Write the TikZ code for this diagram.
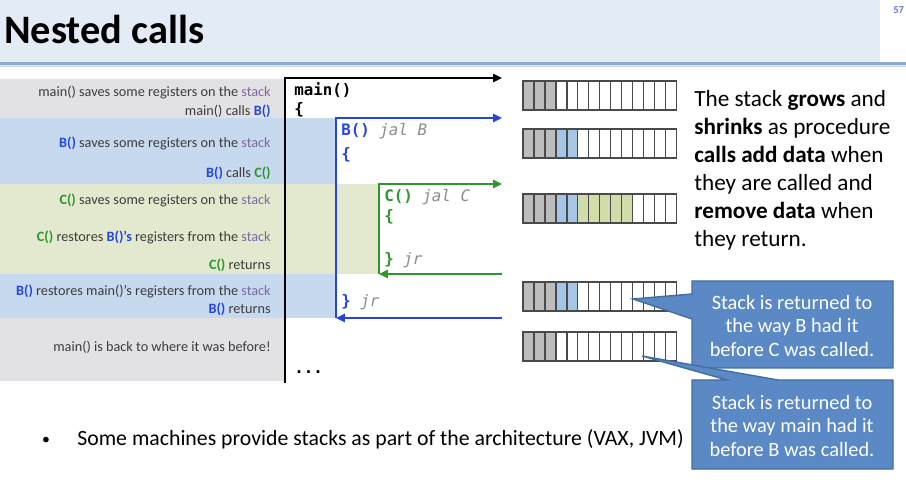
\documentclass[tikz,border=0pt]{standalone}
\usepackage{fontspec}
\setmainfont{Carlito}
\newfontfamily\codefont{DejaVu Sans Mono}
\usetikzlibrary{arrows.meta}
\definecolor{titlebg}{HTML}{E3ECF6}
\definecolor{titleline}{HTML}{8FAACB}
\definecolor{rowgray}{HTML}{E2E1E3}
\definecolor{rowblue}{HTML}{C6D9EE}
\definecolor{rowgreen}{HTML}{E3E9CF}
\definecolor{fnblue}{HTML}{2446DC}
\definecolor{fngreen}{HTML}{2E962E}
\definecolor{stkpurple}{HTML}{7D6AA0}
\definecolor{txtgray}{HTML}{3C3C3C}
\definecolor{jalgray}{HTML}{8C8C8C}
\definecolor{cellgray}{HTML}{BDBDBD}
\definecolor{cellblue}{HTML}{A6C6E8}
\definecolor{cellgreen}{HTML}{D0DDA9}
\definecolor{cellborder}{HTML}{4A4A4A}
\definecolor{callfill}{HTML}{5A89C5}
\definecolor{calldraw}{HTML}{41709F}
\newcommand{\fnB}{\textcolor{fnblue}{\textbf{B()}}}
\newcommand{\fnC}{\textcolor{fngreen}{\textbf{C()}}}
\newcommand{\stk}{\textcolor{stkpurple}{stack}}
\def\cw{10.95}

\begin{document}
\begin{tikzpicture}[x=0.02cm,y=-0.02cm,
    lefttxt/.style={anchor=east, inner sep=0pt, text=txtgray, font=\fontsize{8.1}{10}\selectfont},
    codetxt/.style={anchor=west, inner sep=0pt, font=\codefont\fontsize{9}{10}\selectfont},
    calltxt/.style={align=center, text=white, font=\fontsize{11.6}{13.2}\selectfont},
    flow/.style={line width=1.3pt, -{Triangle[length=5pt,width=4.5pt]}},
    cellline/.style={draw=cellborder, line width=0.8pt},
    callout/.style={fill=callfill, draw=calldraw, line width=0.8pt}]
    %%%%% START %%%%%
    \useasboundingbox (0,0) rectangle (906,489);
    \fill[white] (0,0) rectangle (906,489);

    % title bar
    \fill[titlebg] (0,0) rectangle (880,62);
    \draw[titleline, line width=1.4pt] (0,63.5) -- (906,63.5);
    \draw[titleline!40, line width=0.8pt] (0,66) -- (906,66);
    \node[anchor=base west, inner sep=0pt, font=\bfseries\fontsize{23}{27}\selectfont] (title) at (4,44) {Nested calls};
    \node[anchor=west, inner sep=0pt, text=titleline!70!blue, font=\bfseries\fontsize{6}{7}\selectfont] (pagenum) at (893,10) {57};

    % bands behind the call sequence
    \fill[rowgray] (0,79) rectangle (285,118);
    \fill[rowblue] (0,118) rectangle (336,184);
    \fill[rowgreen] (0,184) rectangle (379,274);
    \fill[rowblue] (0,274) rectangle (336,318);
    \fill[rowgray] (0,318) rectangle (285,381);

    \node[lefttxt] (l1) at (271,93) {main() saves some registers on the \stk};
    \node[lefttxt] (l2) at (271,111) {main() calls \fnB};
    \node[lefttxt] (l3) at (271,143) {\fnB{} saves some registers on the \stk};
    \node[lefttxt] (l4) at (271,173) {\fnB{} calls \fnC};
    \node[lefttxt] (l5) at (271,200) {\fnC{} saves some registers on the \stk};
    \node[lefttxt] (l6) at (271,237) {\fnC{} restores \textcolor{fnblue}{\textbf{B()’s}} registers from the \stk};
    \node[lefttxt] (l7) at (271,265) {\fnC{} returns};
    \node[lefttxt] (l8) at (271,291) {\fnB{} restores main()’s registers from the \stk};
    \node[lefttxt] (l9) at (271,309) {\fnB{} returns};
    \node[lefttxt] (l10) at (271,347) {main() is back to where it was before!};

    % control flow
    \coordinate (mainBot) at (285,383);
    \coordinate (mainTop) at (285,78);
    \coordinate (mainArr) at (502,78);
    \coordinate (bTop) at (336,118);
    \coordinate (bArr) at (502,118);
    \coordinate (bBot) at (336,318);
    \coordinate (bRet) at (502,318);
    \coordinate (cTop) at (379,184);
    \coordinate (cArr) at (502,184);
    \coordinate (cBot) at (379,274);
    \coordinate (cRet) at (502,274);

    \draw[flow, black] (mainBot) -- (mainTop) -- (mainArr);
    \draw[flow, fnblue] (bBot) -- (bTop) -- (bArr);
    \draw[flow, fnblue] (bRet) -- (bBot);
    \draw[flow, fngreen] (cBot) -- (cTop) -- (cArr);
    \draw[flow, fngreen] (cRet) -- (cBot);

    \node[codetxt] (mainName) at (294,90) {\textbf{main()}};
    \node[codetxt] (mainOpen) at (294,110) {\textbf{\{}};
    \node[codetxt] (bName) at (341,131) {\textcolor{fnblue}{\textbf{B()}} \textcolor{jalgray}{\itshape jal B}};
    \node[codetxt] (bOpen) at (341,155) {\textcolor{fnblue}{\textbf{\{}}};
    \node[codetxt] (bClose) at (341,302) {\textcolor{fnblue}{\textbf{\}}} \textcolor{jalgray}{\itshape jr}};
    \node[codetxt] (cName) at (384,197) {\textcolor{fngreen}{\textbf{C()}} \textcolor{jalgray}{\itshape jal C}};
    \node[codetxt] (cOpen) at (384,217) {\textcolor{fngreen}{\textbf{\{}}};
    \node[codetxt] (cClose) at (384,260) {\textcolor{fngreen}{\textbf{\}}} \textcolor{jalgray}{\itshape jr}};
    \node[codetxt] (dots) at (294,372) {\textbf{...}};

    % stack snapshots
    \foreach \top/\nb/\ng in {81/0/0, 129/2/0, 194/2/5, 282/2/0, 332/0/0} {
      \fill[cellgray] (523,\top) rectangle ++(3*\cw,29);
      \fill[cellblue] (523+3*\cw,\top) rectangle ++(\nb*\cw,29);
      \fill[cellgreen] (523+5*\cw,\top) rectangle ++(\ng*\cw,29);
      \foreach \i in {1,...,13}
        \draw[cellline] (523+\i*\cw,\top) -- ++(0,29);
      \draw[cellline] (523,\top) rectangle ++(14*\cw,29);
    }

    % explanation
    \node[anchor=north west, inner sep=0pt, align=left, font=\fontsize{13.2}{15.9}\selectfont] (note) at (694,90)
      {The stack \textbf{grows} and\\ \textbf{shrinks} as procedure\\ \textbf{calls add data} when\\ they are called and\\ \textbf{remove data} when\\ they return.};

    % callouts
    \draw[callout] (692,281) -- (893,281) -- (893,368) -- (692,368) -- (692,319) -- (633,299) -- (692,294) -- cycle;
    \node[calltxt] (callB) at (792,326) {Stack is returned to\\ the way B had it\\ before C was called.};
    \draw[callout] (692,380) -- (727,380) -- (642,356) -- (778,380) -- (893,380) -- (893,469) -- (692,469) -- cycle;
    \node[calltxt] (callMain) at (792,426) {Stack is returned to\\ the way main had it\\ before B was called.};

    % bullet
    \node[anchor=base, inner sep=0pt, font=\fontsize{9}{10}\selectfont] (dot) at (46,444) {•};
    \node[anchor=base west, inner sep=0pt, font=\fontsize{12.4}{14}\selectfont] (bullet) at (77,445)
      {Some machines provide stacks as part of the architecture (VAX, JVM)};
    %%%%% END %%%%%
\end{tikzpicture}
\end{document}
